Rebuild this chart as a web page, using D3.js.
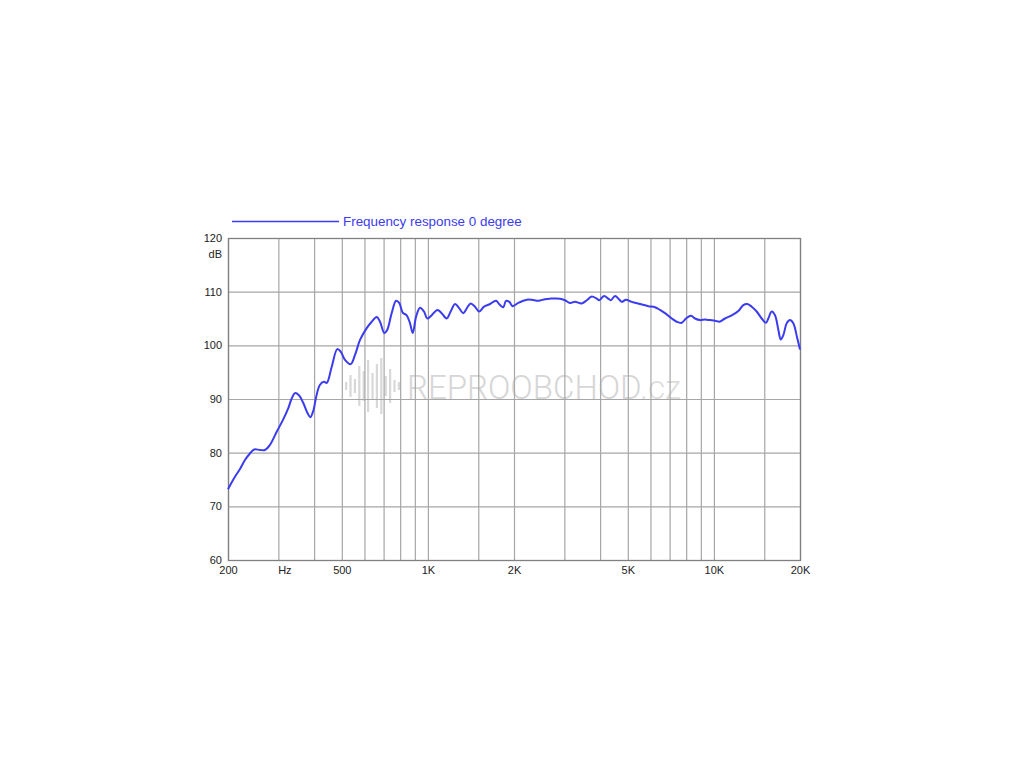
<!DOCTYPE html>
<html>
<head>
<meta charset="utf-8">
<script src="https://cdn.jsdelivr.net/npm/d3@7"></script>
<style>
  html, body { margin: 0; padding: 0; background: #fff; }
  svg { display: block; font-family: "Liberation Sans", Arial, sans-serif; }
</style>
</head>
<body>
<svg id="chart" width="1024" height="768"></svg>
<script>
// ---- data ----
const freqs = [200,212,220,229,239,247,259,269,280,296,312,325,334,343,354,367,380,388,398,406,419,433,443,461,482,496,513,537,556,579,611,636,662,680,704,721,747,774,794,816,843,866,885,909,938,969,995,1031,1079,1117,1163,1201,1244,1287,1330,1367,1411,1461,1512,1571,1649,1730,1787,1835,1875,1926,1979,2070,2216,2307,2433,2567,2673,2896,3016,3140,3270,3451,3592,3740,3894,3974,4128,4274,4358,4511,4658,4761,4928,5159,5516,5898,6224,6480,6746,7120,7414,7718,7991,8319,8591,8942,9310,9692,10090,10444,10936,11542,12172,12670,13084,13556,14112,14694,15210,15496,15924,16354,16798,17126,17486,17972,18452,18948,19568,20000];
const spl = [73.2,75.6,76.9,78.6,79.9,80.6,80.5,80.5,81.4,83.9,86.2,88.3,90.1,91.1,90.7,89.2,87.3,86.6,87.9,90.2,92.6,93.2,93.0,96.0,99.3,98.8,97.3,96.5,98.2,101.0,103.2,104.4,105.3,104.4,102.3,102.9,106.0,108.3,107.9,106.1,105.6,104.1,102.3,105.3,107.0,106.3,105.0,105.6,106.6,106.0,105.0,106.3,107.7,106.9,106.0,106.9,107.8,107.2,106.3,107.2,107.7,108.3,107.5,107.1,108.3,108.1,107.3,107.9,108.5,108.5,108.3,108.6,108.7,108.7,108.4,107.9,108.1,107.8,108.4,109.1,108.7,108.4,109.2,108.7,108.4,109.2,108.6,108.1,108.5,108.1,107.7,107.3,107.1,106.6,106.0,105.0,104.4,104.2,105.0,105.5,105.0,104.7,104.8,104.7,104.6,104.4,105.0,105.6,106.4,107.5,107.7,107.2,106.3,105.0,104.2,105.0,106.3,105.6,102.9,101.1,101.9,104.1,104.7,104.1,101.3,99.2];
const seriesName = "Frequency response 0 degree";
const gridFreqs = [200,300,400,500,600,700,800,900,1000,1500,2000,3000,4000,5000,6000,7000,8000,9000,10000,15000,20000];
const xTickVals = [200,300,500,1000,2000,5000,10000,20000];
const xTickLabels = ["200","Hz","500","1K","2K","5K","10K","20K"];
const yTicks = [60,70,80,90,100,110,120];
const yUnit = "dB";
const watermarkText = "REPROOBCHOD";
const watermarkSuffix = ".cz";
const iconBars = [8,22,14,40,30,52,26,44,56,20,34,12,8];

// ---- layout ----
const svg = d3.select("#chart");
const L = 228, R = 800, T = 238, B = 560;
const x = d3.scaleLog().domain([200, 20000]).range([L, R]);
const y = d3.scaleLinear().domain([60, 120]).range([B, T]);
const blue = "#3b3bef";
const gridCol = "#a6a6a6";

// watermark
const wm = svg.append("g").attr("opacity", 0.9);
wm.selectAll("rect").data(iconBars).join("rect")
  .attr("x", (d, i) => 345 + i * 4.4)
  .attr("y", d => 386 - d / 2)
  .attr("width", 2.2)
  .attr("height", d => d)
  .attr("fill", "#d4d4d4");
wm.append("text").attr("x", 407).attr("y", 399)
  .attr("font-family", "Roboto, 'Open Sans', sans-serif")
  .attr("font-weight", 300)
  .attr("font-size", 33)
  .attr("fill", "#d2d2d2")
  .text(watermarkText)
  .append("tspan").attr("fill", "#dadada").text(watermarkSuffix);

// grid
const g = svg.append("g");
g.selectAll("line.v").data(gridFreqs).join("line")
  .attr("class", "v")
  .attr("x1", d => x(d) + 0.5).attr("x2", d => x(d) + 0.5)
  .attr("y1", T).attr("y2", B)
  .attr("stroke", gridCol).attr("stroke-width", 1.2);
g.selectAll("line.h").data(yTicks).join("line")
  .attr("class", "h")
  .attr("x1", L).attr("x2", R)
  .attr("y1", d => y(d) + 0.5).attr("y2", d => y(d) + 0.5)
  .attr("stroke", gridCol).attr("stroke-width", 1.2);
g.append("rect").attr("x", L + 0.5).attr("y", T + 0.5)
  .attr("width", R - L).attr("height", B - T)
  .attr("fill", "none").attr("stroke", "#808080").attr("stroke-width", 1.3);

// axes (labels only, using d3 axes)
const xAxis = d3.axisBottom(x).tickValues(xTickVals)
  .tickFormat((d, i) => xTickLabels[i]).tickSize(0).tickPadding(6);
const xa = svg.append("g").attr("transform", `translate(0,${B})`).call(xAxis);
xa.select(".domain").remove();
xa.selectAll("text").attr("font-size", 11).attr("fill", "#222")
  .attr("font-family", "'Liberation Sans', Arial, sans-serif")
  .attr("dx", (d, i) => xTickLabels[i] === "Hz" ? 6 : 0);

const yAxis = d3.axisLeft(y).tickValues(yTicks).tickSize(0).tickPadding(6);
const ya = svg.append("g").attr("transform", `translate(${L},0)`).call(yAxis);
ya.select(".domain").remove();
ya.selectAll("text").attr("font-size", 11).attr("fill", "#222")
  .attr("font-family", "'Liberation Sans', Arial, sans-serif");
svg.append("text").attr("x", L - 6).attr("y", y(117) + 4)
  .attr("text-anchor", "end").attr("font-size", 11).attr("fill", "#222")
  .text(yUnit);

// curve
const data = freqs.map((f, i) => [f, spl[i]]);
const line = d3.line().x(d => x(d[0])).y(d => y(d[1])).curve(d3.curveCatmullRom.alpha(0.5));
svg.append("path").datum(data)
  .attr("d", line).attr("fill", "none")
  .attr("stroke", blue).attr("stroke-width", 2)
  .attr("stroke-linejoin", "round");

// legend
svg.append("line").attr("x1", 232).attr("x2", 339).attr("y1", 221.5).attr("y2", 221.5)
  .attr("stroke", blue).attr("stroke-width", 1.5);
svg.append("text").attr("x", 343).attr("y", 225.5)
  .attr("font-size", 13.4).attr("fill", blue).text(seriesName);
</script>
</body>
</html>
